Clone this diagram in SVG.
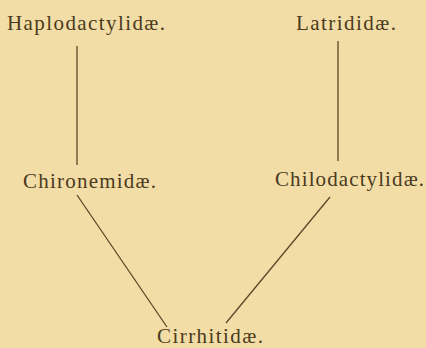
<svg xmlns="http://www.w3.org/2000/svg" width="426" height="348" viewBox="0 0 426 348">
<style>
.lbl{font-family:"Liberation Serif","DejaVu Serif","Times New Roman",serif;font-size:21px;fill:#4a3a20}
.ln{stroke:#5a4828;stroke-width:1.3;fill:none}
</style>
<rect width="426" height="348" fill="#F2DDA6"/>
<g id="connectors">
<line class="ln" x1="77" y1="46" x2="77" y2="165"/>
<line class="ln" x1="338" y1="41" x2="338" y2="161"/>
<line class="ln" x1="77" y1="195" x2="167" y2="327"/>
<line class="ln" x1="330" y1="197" x2="226" y2="323"/>
</g>
<g id="haplodactylidae"><text class="lbl" x="7" y="30" textLength="158" lengthAdjust="spacing">Haplodactylidæ.</text></g>
<g id="latrididae"><text class="lbl" x="296" y="30" textLength="100" lengthAdjust="spacing">Latrididæ.</text></g>
<g id="chironemidae"><text class="lbl" x="23" y="188" textLength="133" lengthAdjust="spacing">Chironemidæ.</text></g>
<g id="chilodactylidae"><text class="lbl" x="275" y="186" textLength="149" lengthAdjust="spacing">Chilodactylidæ.</text></g>
<g id="cirrhitidae"><text class="lbl" x="157" y="343" textLength="106" lengthAdjust="spacing">Cirrhitidæ.</text></g>
</svg>
